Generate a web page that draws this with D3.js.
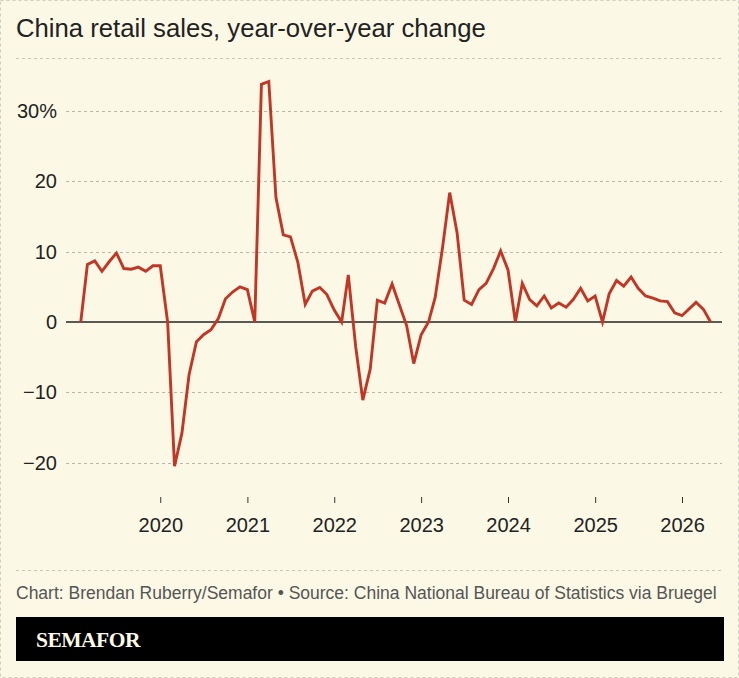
<!DOCTYPE html>
<html>
<head>
<meta charset="utf-8">
<script src="https://cdn.jsdelivr.net/npm/d3@7"></script>
<style>
  body { margin: 0; background: #fbf9e6; }
  svg { display: block; }
</style>
</head>
<body>
<script>
const W = 739, H = 678
const bg = "#fbf9e6"
const red = "#c23626"

// monthly retail sales, % change y/y (January plotted at 0: NBS reports Jan-Feb together)
const years = [2019, 2020, 2021, 2022, 2023, 2024, 2025, 2026]
const v2019 = [0, 8.2, 8.7, 7.2, 8.6, 9.8, 7.6, 7.5, 7.8, 7.2, 8.0, 8.0]
const v2020 = [0, -20.5, -15.8, -7.5, -2.8, -1.8, -1.1, 0.5, 3.3, 4.3, 5.0, 4.6]
const v2021 = [0, 33.8, 34.2, 17.7, 12.4, 12.1, 8.5, 2.5, 4.4, 4.9, 3.9, 1.7]
const v2022 = [0, 6.7, -3.5, -11.1, -6.7, 3.1, 2.7, 5.4, 2.5, -0.5, -5.9, -1.8]
const v2023 = [0, 3.5, 10.6, 18.4, 12.7, 3.1, 2.5, 4.6, 5.5, 7.6, 10.1, 7.4]
const v2024 = [0, 5.5, 3.2, 2.3, 3.7, 2.0, 2.7, 2.1, 3.2, 4.8, 3.0, 3.7]
const v2025 = [0, 4.0, 5.9, 5.1, 6.4, 4.8, 3.7, 3.4, 3.0, 2.9, 1.3, 0.9]
const v2026 = [1.9, 2.8, 1.8, 0]
const byYear = [v2019, v2020, v2021, v2022, v2023, v2024, v2025, v2026]

const yTicks = [-20, -10, 0, 10, 20, 30]
const xTicks = [2020, 2021, 2022, 2023, 2024, 2025, 2026]

// each value sits at the end of its month
const data = []
byYear.forEach((vals, i) => vals.forEach((v, m) => data.push({ date: new Date(years[i], m + 1, 1), value: v })))

const font = "'Liberation Sans', Arial, sans-serif"

const svg = d3.select("body").append("svg").attr("width", W).attr("height", H)
  .style("font-family", font)

svg.append("rect").attr("x", 0.5).attr("y", 0.5).attr("width", W - 1).attr("height", H - 1)
  .attr("fill", bg).attr("stroke", "#cfcdc0").attr("stroke-dasharray", "3,3")

svg.append("text").attr("x", 16).attr("y", 37).attr("font-size", 25.7).attr("fill", "#222")
  .text("China retail sales, year-over-year change")

svg.append("line").attr("x1", 16).attr("x2", 723).attr("y1", 58.5).attr("y2", 58.5)
  .attr("stroke", "#c9c7bb").attr("stroke-dasharray", "3,3")

const x = d3.scaleTime().domain([new Date(2018, 11, 1), new Date(2026, 5, 18)]).range([66, 722])
const y = d3.scaleLinear().domain([-20, 30]).range([462.7, 111])

// horizontal grid
const grid = svg.append("g")
grid.selectAll("line").data(yTicks.filter(t => t !== 0)).join("line")
  .attr("x1", 66).attr("x2", 722)
  .attr("y1", d => Math.round(y(d)) + 0.5).attr("y2", d => Math.round(y(d)) + 0.5)
  .attr("stroke", "#b9b7ab").attr("stroke-width", 1).attr("stroke-dasharray", "3,3")

grid.selectAll("text").data(yTicks).join("text")
  .attr("x", 57).attr("y", d => y(d) + 7)
  .attr("text-anchor", "end").attr("font-size", 20).attr("fill", "#222")
  .text(d => (d < 0 ? "\u2212" + Math.abs(d) : d) + (d === 30 ? "%" : ""))

svg.append("line").attr("x1", 66).attr("x2", 722).attr("y1", y(0)).attr("y2", y(0))
  .attr("stroke", "#5a5a55").attr("stroke-width", 2)

// x axis
const xAxis = svg.append("g").attr("transform", "translate(0,497)")
  .call(d3.axisBottom(x).tickValues(xTicks.map(yr => new Date(yr, 0, 1))).tickFormat(d3.timeFormat("%Y"))
    .tickSize(6).tickPadding(15))
xAxis.select(".domain").remove()
xAxis.selectAll(".tick line").attr("stroke", "#333")
xAxis.selectAll(".tick text").attr("font-size", 20).attr("fill", "#222").attr("font-family", font)

svg.append("path").datum(data)
  .attr("d", d3.line().x(d => x(d.date)).y(d => y(d.value)))
  .attr("fill", "none").attr("stroke", red).attr("stroke-width", 2.9)

// footer
svg.append("line").attr("x1", 16).attr("x2", 723).attr("y1", 570.5).attr("y2", 570.5)
  .attr("stroke", "#c9c7bb").attr("stroke-dasharray", "3,3")

svg.append("text").attr("x", 16).attr("y", 599).attr("font-size", 17.5).attr("fill", "#555")
  .text("Chart: Brendan Ruberry/Semafor \u2022 Source: China National Bureau of Statistics via Bruegel")

svg.append("rect").attr("x", 16).attr("y", 617).attr("width", 708).attr("height", 44).attr("fill", "#000")
svg.append("text").attr("x", 36).attr("y", 647).attr("font-size", 21.5).attr("font-weight", "bold")
  .attr("font-family", "'Liberation Serif', 'DejaVu Serif', serif").attr("fill", "#fbf9e6")
  .attr("letter-spacing", -0.5)
  .text("SEMAFOR")
</script>
</body>
</html>
